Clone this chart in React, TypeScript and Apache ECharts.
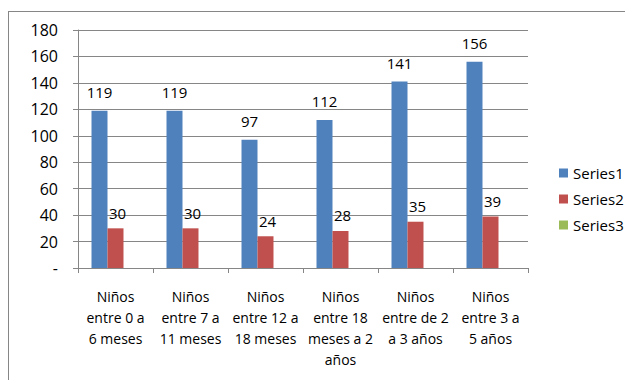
import React, { useEffect, useRef } from "react";
import * as echarts from "echarts";

const categories = [
  "Niños\nentre 0 a\n6 meses",
  "Niños\nentre 7 a\n11 meses",
  "Niños\nentre 12 a\n18 meses",
  "Niños\nentre 18\nmeses a 2\naños",
  "Niños\nentre de 2\na 3 años",
  "Niños\nentre 3 a\n5 años",
];
const series1 = [119, 119, 97, 112, 141, 156];
const series2 = [30, 30, 24, 28, 35, 39];
const series3: (number | null)[] = [null, null, null, null, null, null];
const seriesNames = ["Series1", "Series2", "Series3"];
const colors = ["#4F81BD", "#C0504D", "#9BBB59"];

const FONT = "'Open Sans', 'Noto Sans', sans-serif";

export default function App() {
  const ref = useRef<HTMLDivElement>(null);

  useEffect(() => {
    if (!ref.current) return;
    const chart = echarts.init(ref.current, undefined, { renderer: "svg" });
    const valueLabel = (dx: number, distance: number) => ({
      show: true,
      position: "top" as const,
      distance,
      offset: [dx, 0],
      color: "#000",
      fontSize: 15,
      fontFamily: FONT,
    });
    chart.setOption({
      animation: false,
      backgroundColor: "#fff",
      textStyle: { fontFamily: FONT },
      grid: { left: 78, right: 97, top: 30, bottom: 112, containLabel: false },
      legend: {
        orient: "vertical",
        left: 554,
        top: 160,
        itemWidth: 9,
        itemHeight: 9,
        itemGap: 10,
        icon: "rect",
        data: seriesNames,
        textStyle: { color: "#000", fontSize: 15, lineHeight: 16, fontFamily: FONT },
      },
      xAxis: {
        type: "category",
        data: categories,
        axisLine: { show: true, lineStyle: { color: "#868686", width: 1 } },
        axisTick: { show: true, alignWithLabel: false, length: 5, lineStyle: { color: "#868686" } },
        axisLabel: {
          color: "#000",
          fontSize: 14,
          lineHeight: 21,
          margin: 18,
          interval: 0,
          fontFamily: FONT,
        },
      },
      yAxis: {
        type: "value",
        min: 0,
        max: 180,
        interval: 20,
        axisLine: { show: true, lineStyle: { color: "#868686", width: 1 } },
        axisTick: { show: true, length: 5, lineStyle: { color: "#868686" } },
        splitLine: { show: true, lineStyle: { color: "#868686", width: 1 } },
        axisLabel: {
          color: "#000",
          fontSize: 16,
          margin: 20,
          fontFamily: FONT,
          formatter: (v: number) => (v === 0 ? "-" : String(v)),
        },
      },
      series: [
        {
          name: seriesNames[0],
          type: "bar",
          data: series1,
          barWidth: 16,
          barGap: "0%",
          itemStyle: { color: colors[0] },
          label: valueLabel(0, 11),
        },
        {
          name: seriesNames[1],
          type: "bar",
          data: series2,
          barWidth: 16,
          barGap: "0%",
          itemStyle: { color: colors[1] },
          label: valueLabel(2, 8),
        },
        {
          name: seriesNames[2],
          type: "bar",
          data: series3,
          barWidth: 16,
          barGap: "0%",
          itemStyle: { color: colors[2] },
        },
      ],
      graphic: [
        {
          type: "line",
          shape: { x1: 8, y1: 11.5, x2: 625, y2: 11.5 },
          style: { stroke: "#868686", lineWidth: 1 },
        },
        {
          type: "line",
          shape: { x1: 8.5, y1: 11, x2: 8.5, y2: 380 },
          style: { stroke: "#868686", lineWidth: 1 },
        },
      ],
    });
    return () => chart.dispose();
  }, []);

  return (
    <div
      ref={ref}
      style={{ position: "fixed", left: 0, top: 0, width: 625, height: 380, background: "#fff" }}
    />
  );
}
